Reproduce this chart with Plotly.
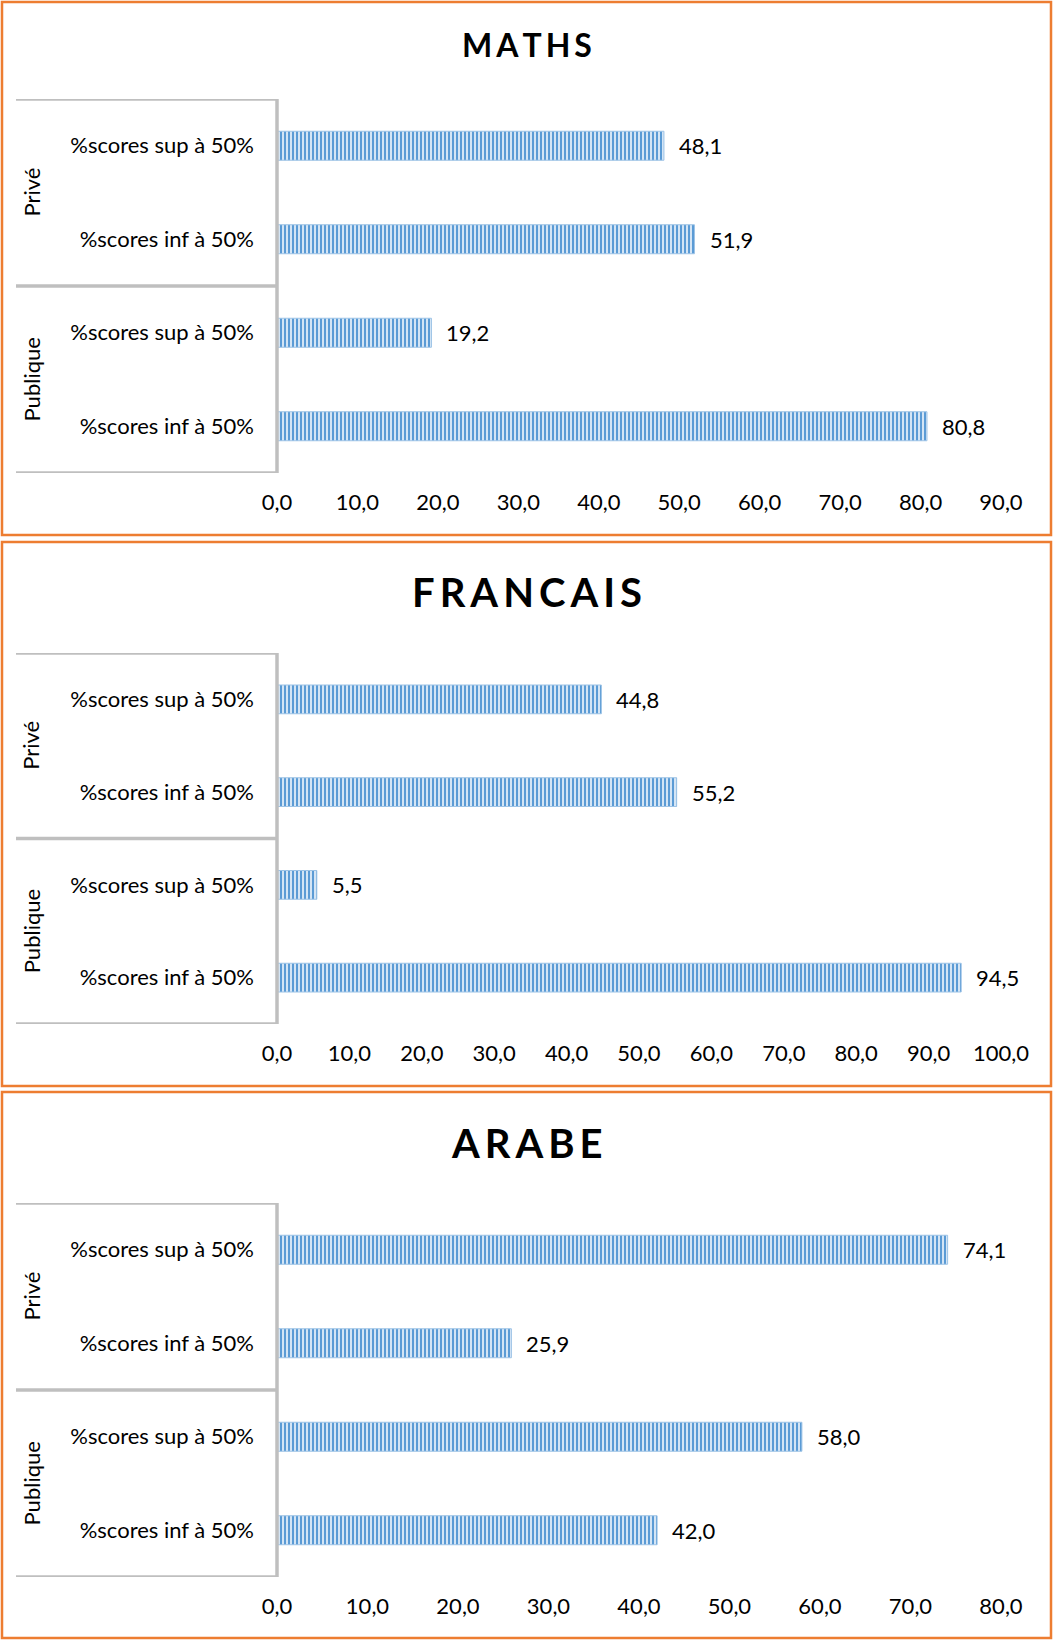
import plotly.graph_objects as go

W, H = 1053, 1640

# ---- data ----
groups = ["Privé", "Privé", "Publique", "Publique"]
labels = ["%scores sup à 50%", "%scores inf à 50%", "%scores sup à 50%", "%scores inf à 50%"]
subjects = ["MATHS", "FRANCAIS", "ARABE"]
maths = [48.1, 51.9, 19.2, 80.8]
francais = [44.8, 55.2, 5.5, 94.5]
arabe = [74.1, 25.9, 58.0, 42.0]
x_max = [90, 100, 80]
x_ticks = [list(range(0, m + 1, 10)) for m in x_max]
values = [maths, francais, arabe]

# ---- layout geometry (pixels) ----
panels = [
    dict(box=(2, 2, 1051, 535), plot=(99, 473), title_y=44, title_size=32),
    dict(box=(2, 542, 1051, 1086), plot=(653, 1024), title_y=592, title_size=40),
    dict(box=(2, 1092, 1051, 1638), plot=(1203, 1577), title_y=1143, title_size=40),
]
PX_L, PX_R = 277, 1001
LEFT_LINE = 16
FONT = "Lato"
FS = 22
BLUE = "#5b9bd5"
GRAY = "#bfbfbf"
ORANGE = "#ed7d31"


def px(x):
    return x / W


def py(y):
    return 1 - y / H


fig = go.Figure()
shapes = []
annotations = []

keys = [f"{g}|{i}" for i, g in enumerate(groups)]

for k, (subj, vals, p) in enumerate(zip(subjects, values, panels)):
    n = "" if k == 0 else str(k + 1)
    xa, ya = "x" + n, "y" + n
    fig.add_trace(go.Bar(
        x=vals, y=keys, orientation="h", xaxis=xa, yaxis=ya,
        marker=dict(color=BLUE, line=dict(color="#9dc3e6", width=1),
                    pattern=dict(shape="|", fgcolor="#e2eef9", bgcolor=BLUE,
                                 size=4, solidity=0.45)),
        width=0.31, showlegend=False, hoverinfo="skip",
    ))
    top, bot = p["plot"]
    fig.layout["xaxis" + n] = dict(
        domain=[px(PX_L), px(PX_R)], anchor=ya, range=[0, x_max[k]],
        tickvals=x_ticks[k], tickformat=".1f", showgrid=False, zeroline=False,
        showline=False, ticks="", ticklabelstandoff=14, automargin=False,
        fixedrange=True,
        tickfont=dict(family=FONT, size=FS, color="#000"),
    )
    fig.layout["yaxis" + n] = dict(
        domain=[py(bot), py(top)], anchor=xa, type="category",
        categoryorder="array", categoryarray=keys,
        range=[len(keys) - 0.5, -0.5],
        tickvals=keys, ticktext=labels, showgrid=False, zeroline=False,
        showline=False, ticks="", ticklabelstandoff=22, automargin=False,
        fixedrange=True,
        tickfont=dict(family=FONT, size=FS, color="#000"),
    )
    # orange border
    x0, y0, x1, y1 = p["box"]
    shapes.append(dict(type="rect", xref="paper", yref="paper",
                       x0=px(x0), x1=px(x1), y0=py(y1), y1=py(y0),
                       line=dict(color=ORANGE, width=2.5)))
    # group divider lines
    bounds = [-0.5]
    start = 0
    for i in range(1, len(groups) + 1):
        if i == len(groups) or groups[i] != groups[start]:
            bounds.append(i - 0.5)
            annotations.append(dict(
                xref="paper", yref=ya, x=px(31), y=(start + i - 1) / 2,
                text=groups[start], textangle=-90, showarrow=False,
                font=dict(family=FONT, size=FS, color="#000"),
                xanchor="center", yanchor="middle"))
            start = i
    for b in bounds:
        shapes.append(dict(type="line", xref="paper", yref=ya,
                           x0=px(LEFT_LINE), x1=px(PX_L), y0=b, y1=b,
                           line=dict(color=GRAY, width=3.5)))
    shapes.append(dict(type="line", xref="paper", yref=ya,
                       x0=px(PX_L), x1=px(PX_L), y0=bounds[0], y1=bounds[-1],
                       line=dict(color=GRAY, width=3.5)))
    # data labels
    for key, v in zip(keys, vals):
        annotations.append(dict(
            xref=xa, yref=ya, x=v, y=key, text=f"{v:.1f}".replace(".", ","),
            showarrow=False, xanchor="left", yanchor="middle", xshift=13,
            font=dict(family=FONT, size=FS, color="#000")))
    # title
    annotations.append(dict(
        xref="paper", yref="paper", x=px(527), y=py(p["title_y"]),
        text="<b>" + "\u2009".join(subj) + "</b>", showarrow=False,
        xanchor="center", yanchor="middle",
        font=dict(family=FONT, size=p["title_size"], color="#000")))

fig.update_layout(
    template="none",
    width=W, height=H,
    margin=dict(l=0, r=0, t=0, b=0, pad=0, autoexpand=False),
    paper_bgcolor="white", plot_bgcolor="white",
    separators=", ", bargap=0.69,
    shapes=shapes, annotations=annotations,
    font=dict(family=FONT, size=FS, color="#000"),
)

fig.write_html("out.html", config={"displayModeBar": False, "staticPlot": True},
               post_script="document.body.style.margin='0';document.body.style.overflow='hidden';")
